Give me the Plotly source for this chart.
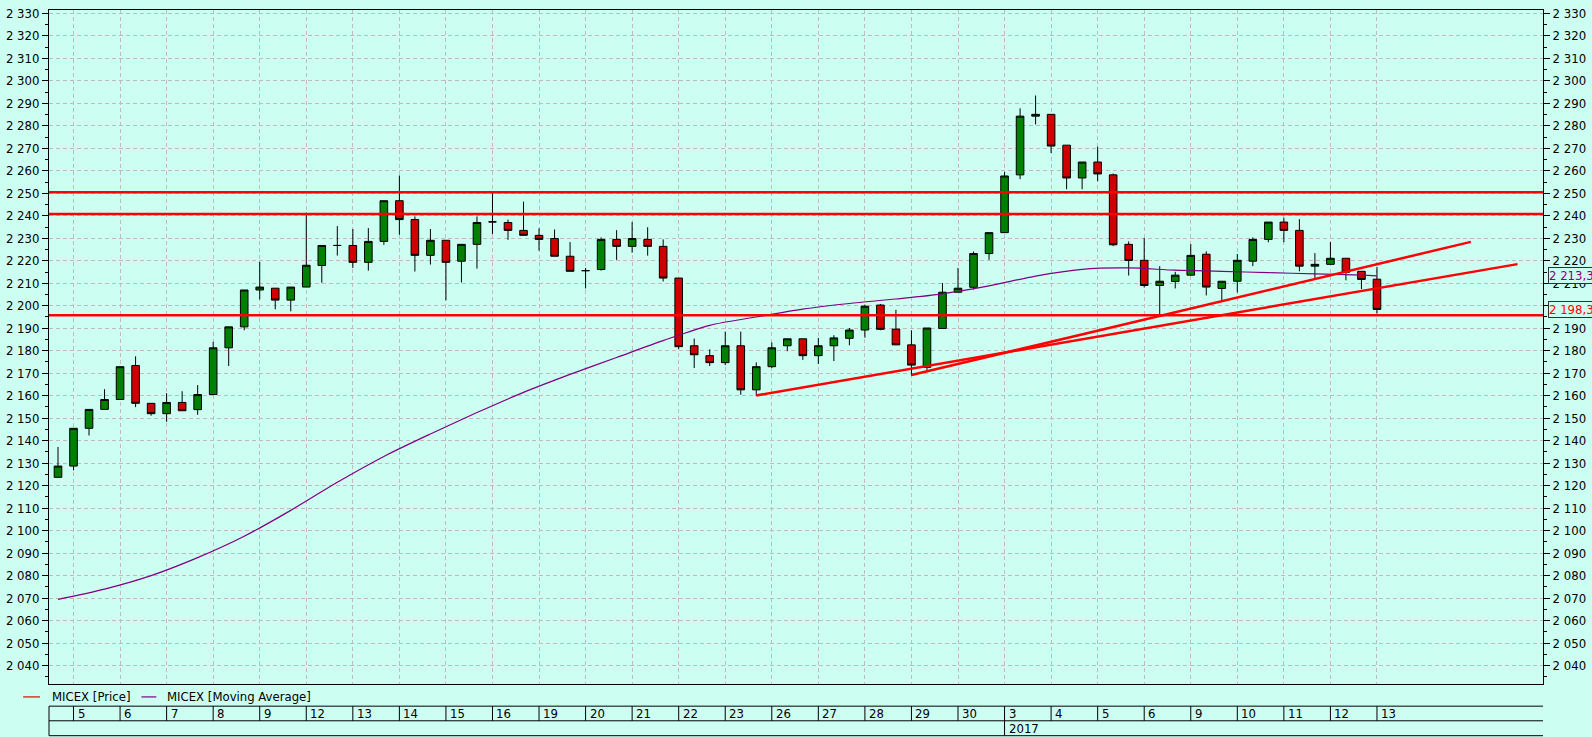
import plotly.graph_objects as go

# ---------------- data ----------------
candle_idx = list(range(86))
opens = [2123.7, 2128.7, 2145.5, 2153.9, 2158.3, 2173.4, 2156.6, 2152.0, 2157.0, 2153.8,
         2160.5, 2181.3, 2190.6, 2207.0, 2207.8, 2202.5, 2208.3, 2217.9, 2226.8, 2226.8,
         2219.3, 2228.6, 2246.7, 2238.3, 2222.4, 2229.1, 2219.8, 2227.3, 2237.3, 2237.0,
         2233.5, 2231.3, 2229.9, 2222.0, 2215.6, 2216.1, 2229.5, 2226.4, 2229.5, 2226.4,
         2212.3, 2182.2, 2177.8, 2174.7, 2182.2, 2162.6, 2172.9, 2182.2, 2185.3, 2177.8,
         2182.2, 2185.5, 2189.2, 2200.3, 2189.6, 2182.6, 2172.6, 2189.9, 2206.0, 2208.2,
         2223.2, 2232.5, 2258.2, 2284.3, 2285.1, 2271.4, 2256.8, 2263.9, 2258.2, 2227.3,
         2220.2, 2209.0, 2210.8, 2213.6, 2222.9, 2207.7, 2210.9, 2219.8, 2229.5, 2237.2,
         2233.5, 2217.6, 2218.4, 2221.1, 2215.3, 2211.8]
highs = [2137.2, 2145.5, 2153.9, 2162.9, 2172.9, 2177.5, 2156.6, 2161.1, 2162.0, 2164.7,
         2184.0, 2190.6, 2207.0, 2219.6, 2207.8, 2208.3, 2241.4, 2226.8, 2235.4, 2234.1,
         2234.5, 2246.7, 2257.9, 2239.7, 2234.1, 2229.1, 2227.3, 2239.7, 2250.0, 2238.3,
         2246.3, 2234.4, 2233.9, 2228.3, 2216.8, 2230.4, 2233.6, 2237.2, 2234.9, 2229.5,
         2212.3, 2185.4, 2180.6, 2188.5, 2188.5, 2174.8, 2183.7, 2185.3, 2185.3, 2185.7,
         2186.9, 2190.1, 2200.4, 2200.8, 2198.2, 2189.1, 2190.1, 2210.1, 2216.8, 2224.1,
         2232.5, 2259.5, 2287.8, 2293.5, 2285.1, 2271.4, 2263.9, 2270.7, 2258.8, 2228.6,
         2230.1, 2217.6, 2215.1, 2227.4, 2224.2, 2210.9, 2223.0, 2230.4, 2237.2, 2239.2,
         2238.5, 2223.4, 2228.3, 2221.1, 2215.3, 2217.3]
lows = [2123.5, 2126.8, 2142.3, 2153.9, 2158.3, 2154.9, 2151.1, 2148.4, 2153.3, 2151.5,
        2160.5, 2173.2, 2189.1, 2202.8, 2198.4, 2197.5, 2208.3, 2210.2, 2222.3, 2216.8,
        2215.6, 2227.1, 2231.6, 2215.2, 2218.3, 2202.4, 2210.3, 2216.5, 2231.9, 2229.3,
        2231.3, 2224.5, 2222.0, 2215.3, 2207.7, 2215.6, 2220.4, 2223.6, 2222.3, 2210.8,
        2180.7, 2172.3, 2173.2, 2173.6, 2160.4, 2159.9, 2172.3, 2179.8, 2175.9, 2174.1,
        2175.4, 2182.4, 2185.8, 2189.1, 2182.6, 2168.9, 2171.0, 2189.9, 2206.0, 2207.2,
        2220.4, 2232.5, 2256.3, 2280.6, 2267.9, 2251.8, 2251.8, 2255.4, 2226.5, 2213.4,
        2208.1, 2195.5, 2207.7, 2213.4, 2204.6, 2202.4, 2205.9, 2217.6, 2228.2, 2228.2,
        2215.3, 2212.3, 2218.4, 2211.3, 2207.4, 2196.6]
closes = [2128.7, 2145.5, 2153.9, 2158.3, 2172.9, 2156.6, 2152.0, 2157.0, 2153.3, 2160.5,
          2181.3, 2190.6, 2207.0, 2208.3, 2202.5, 2208.3, 2218.0, 2226.8, 2226.8, 2219.3,
          2228.6, 2246.7, 2238.3, 2222.4, 2229.1, 2219.3, 2227.3, 2237.0, 2237.3, 2233.5,
          2231.3, 2229.5, 2222.0, 2215.3, 2215.6, 2229.5, 2226.4, 2229.9, 2226.4, 2212.3,
          2181.8, 2178.2, 2174.7, 2182.2, 2162.6, 2172.9, 2181.3, 2185.3, 2177.8, 2182.2,
          2185.7, 2189.2, 2199.8, 2189.5, 2182.6, 2173.6, 2190.1, 2206.0, 2207.8, 2223.2,
          2232.5, 2257.7, 2284.3, 2285.1, 2271.0, 2256.8, 2263.9, 2258.6, 2227.1, 2220.1,
          2209.0, 2210.9, 2213.6, 2222.4, 2208.3, 2210.9, 2220.2, 2229.5, 2237.2, 2233.5,
          2217.6, 2218.4, 2221.1, 2214.9, 2211.7, 2198.37]

ma_idx = [0, 3, 6, 9, 12, 15, 18, 21, 24, 27, 30, 33, 36, 39, 42, 45, 48, 51, 54, 57,
          60, 63, 66, 69, 72, 75, 78, 81, 84, 85]
ma_vals = [2069.4, 2074.0, 2080.0, 2088.0, 2097.5, 2109.0, 2121.5, 2133.0, 2143.0, 2152.5,
           2161.5, 2169.5, 2177.0, 2184.5, 2191.3, 2195.0, 2198.5, 2201.0, 2203.0, 2205.3,
           2208.8, 2213.2, 2216.2, 2216.8, 2215.8, 2215.3, 2214.7, 2214.2, 2213.6, 2213.3]

trend_a_x = [45, 94.06]
trend_a_y = [2160.1, 2218.5]
trend_b_x = [55, 91.05]
trend_b_y = [2169.2, 2228.4]

levels = [2250.5, 2240.8, 2195.8]

day_labels = ['5', '6', '7', '8', '9', '12', '13', '14', '15', '16', '19', '20', '21', '22',
              '23', '26', '27', '28', '29', '30', '3', '4', '5', '6', '9', '10', '11', '12', '13']
sessions_per_day = 3
first_day_idx = 1
year_label = '2017'
year_day_pos = 20  # position of "3" (Jan 3) in day_labels

last_price_text = '2 198,37'
last_ma_text = '2 213,30'
last_price = closes[-1]
last_ma = ma_vals[-1]

y_ticks = list(range(2040, 2331, 10))

# ---------------- style ----------------
BG = '#CCFFF2'
GRID = '#C4B9B9'
FONT = 'Liberation Sans Narrow, Arial Narrow, DejaVu Sans Condensed, sans-serif'
RED = '#FF0000'
PURPLE = '#800080'

day_idx = [first_day_idx + sessions_per_day * k for k in range(len(day_labels))]

fig = go.Figure()

fig.add_trace(go.Candlestick(
    x=candle_idx, open=opens, high=highs, low=lows, close=closes,
    increasing=dict(fillcolor='#008000', line=dict(color='black', width=1)),
    decreasing=dict(fillcolor='#D00000', line=dict(color='black', width=1)),
    whiskerwidth=0, hoverinfo='skip', showlegend=False))

fig.add_trace(go.Scatter(x=ma_idx, y=ma_vals, mode='lines',
                         line=dict(color=PURPLE, width=1.2, shape='spline', smoothing=0.8),
                         hoverinfo='skip'))

# trend lines drawn on the right-hand price axis (same scale)
for tx, ty in ((trend_a_x, trend_a_y), (trend_b_x, trend_b_y)):
    fig.add_trace(go.Scatter(x=tx, y=ty, mode='lines', yaxis='y2',
                             line=dict(color=RED, width=2.5), hoverinfo='skip'))

shapes = []
for lv in levels:
    shapes.append(dict(type='line', xref='paper', yref='y', x0=0, x1=1, y0=lv, y1=lv,
                       line=dict(color=RED, width=2.5), layer='above'))

# date table below the plot
plot_bottom_px = 684.0
plot_h = 678.0
def py(px):
    return -(px - plot_bottom_px) / plot_h

row_top, row_mid, row_bot = py(706.3), py(721.0), py(736.0)
for yy in (row_top, row_mid, row_bot):
    shapes.append(dict(type='line', xref='paper', yref='paper', x0=0, x1=1, y0=yy, y1=yy,
                       line=dict(color='black', width=1)))
shapes.append(dict(type='line', xref='paper', yref='paper', x0=0, x1=0, y0=row_top, y1=row_bot,
                   line=dict(color='black', width=1)))
for d in day_idx:
    shapes.append(dict(type='line', xref='x', yref='paper', x0=d, x1=d, y0=row_top, y1=row_mid,
                       line=dict(color='black', width=1)))
yx = day_idx[year_day_pos]
shapes.append(dict(type='line', xref='x', yref='paper', x0=yx, x1=yx, y0=row_mid, y1=row_bot,
                   line=dict(color='black', width=1)))

# legend lines
W = 1503.0
def pxx(px):
    return (px - 44.0) / W
leg_y = py(697.0)
shapes.append(dict(type='line', xref='paper', yref='paper', x0=pxx(18), x1=pxx(35), y0=leg_y, y1=leg_y,
                   line=dict(color='#E00000', width=1.2)))
shapes.append(dict(type='line', xref='paper', yref='paper', x0=pxx(137), x1=pxx(152), y0=leg_y, y1=leg_y,
                   line=dict(color=PURPLE, width=1.2)))

annotations = []
for lab, d in zip(day_labels, day_idx):
    annotations.append(dict(text=lab, xref='x', yref='paper', x=d, y=py(713.5), xanchor='left',
                            yanchor='middle', xshift=2, showarrow=False,
                            font=dict(family=FONT, size=13, color='black')))
annotations.append(dict(text=year_label, xref='x', yref='paper', x=yx, y=py(728.5), xanchor='left',
                        yanchor='middle', xshift=2, showarrow=False,
                        font=dict(family=FONT, size=13, color='black')))
annotations.append(dict(text='MICEX [Price]', xref='paper', yref='paper', x=pxx(45), y=leg_y,
                        xanchor='left', yanchor='middle', showarrow=False,
                        font=dict(family=FONT, size=13, color='black')))
annotations.append(dict(text='MICEX [Moving Average]', xref='paper', yref='paper', x=pxx(161), y=leg_y,
                        xanchor='left', yanchor='middle', showarrow=False,
                        font=dict(family=FONT, size=13, color='black')))
# price tags at the right edge (cut by the window edge, as in the original)
for txt, val, col in ((last_ma_text, last_ma, PURPLE), (last_price_text, last_price, RED)):
    annotations.append(dict(text=txt, xref='paper', yref='y', x=1, y=val, xanchor='left',
                            yanchor='middle', xshift=5, showarrow=False, bgcolor=BG,
                            bordercolor='#303030', borderwidth=1, borderpad=0,
                            font=dict(family=FONT, size=13, color=col)))

tick_text = ['{:,}'.format(v).replace(',', '\u00a0') for v in y_ticks]
yrange = [2031.8, 2331.5]
yaxis_common = dict(range=yrange, tickmode='array', tickvals=y_ticks, ticktext=tick_text,
                    ticks='outside', ticklen=6, tickcolor='black', tickwidth=1,
                    showline=True, linecolor='black', linewidth=1, zeroline=False,
                    tickfont=dict(family=FONT, size=13, color='black'),
                    minor=dict(ticks='outside', ticklen=3, tick0=2035, dtick=10,
                               tickcolor='black', showgrid=False))

fig.update_layout(
    width=1592, height=737,
    margin=dict(l=44, r=45, t=6, b=53),
    paper_bgcolor=BG, plot_bgcolor=BG,
    showlegend=False,
    font=dict(family=FONT, size=13, color='black'),
    xaxis=dict(range=[-0.58, 95.7], tickmode='array', tickvals=day_idx, showticklabels=False,
               ticks='', showgrid=True, gridcolor=GRID, griddash='4px,3px', gridwidth=1,
               showline=True, mirror=True, linecolor='black', linewidth=1, zeroline=False,
               rangeslider=dict(visible=False)),
    yaxis=dict(side='left', showgrid=True, gridcolor=GRID, griddash='4px,3px', gridwidth=1,
               **yaxis_common),
    yaxis2=dict(side='right', overlaying='y', anchor='x', showgrid=False, **yaxis_common),
    shapes=shapes,
    annotations=annotations,
)

fig.write_html("out.html", config={'displayModeBar': False},
               post_script="document.body.style.margin='0';")
